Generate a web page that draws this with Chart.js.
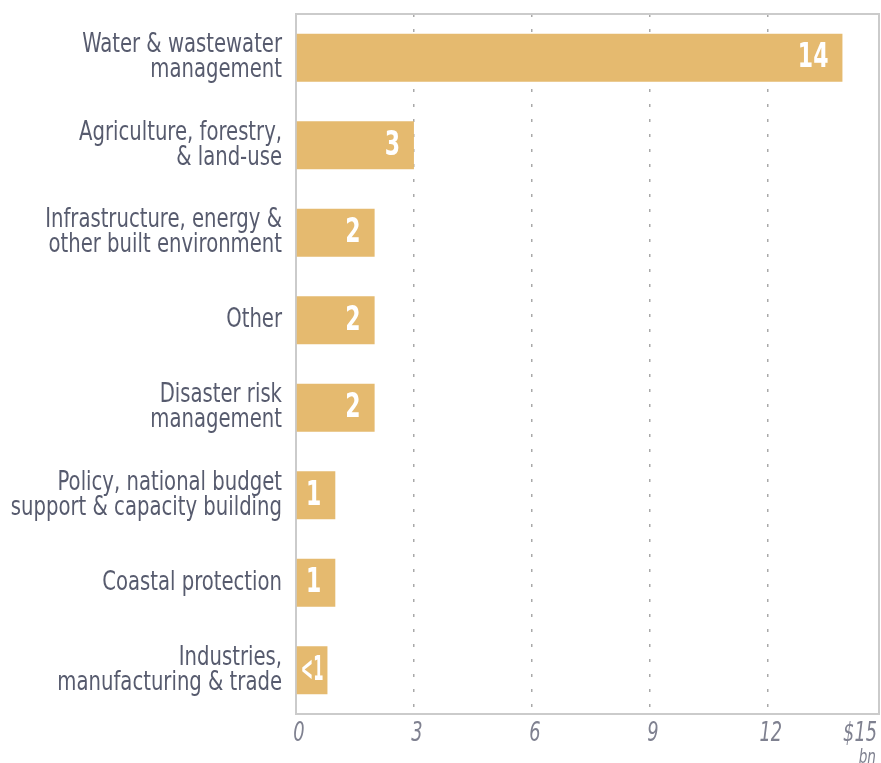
<!DOCTYPE html>
<html>
<head>
<meta charset="utf-8">
<script src="https://cdn.jsdelivr.net/npm/chart.js@4/dist/chart.umd.min.js"></script>
<style>
  html, body { margin: 0; padding: 0; background: #fff; }
  #wrap { width: 881px; height: 763px; }
</style>
</head>
<body>
<div id="wrap"><canvas id="sectorChart"></canvas></div>
<script>
// chart data
const categories = [
    ['Water & wastewater', 'management'],
    ['Agriculture, forestry,', '& land-use'],
    ['Infrastructure, energy &', 'other built environment'],
    ['Other'],
    ['Disaster risk', 'management'],
    ['Policy, national budget', 'support & capacity building'],
    ['Coastal protection'],
    ['Industries,', 'manufacturing & trade'],
];
const amounts = [13.9, 3, 2, 2, 2, 1, 1, 0.8];
const amountLabels = ['14', '3', '2', '2', '2', '1', '1', '<1'];
const tickValues = [0, 3, 6, 9, 12];
const lastTickLabel = '$15';
const unitLabel = 'bn';

const FONT = '"DejaVu Sans Condensed", "DejaVu Sans", sans-serif';
const BAR_COLOR = '#e5ba6f';
const LABEL_COLOR = '#575b6e';
const TICK_COLOR = '#7f8190';

// the source uses a narrow typeface, so squeeze the text horizontally
function squeezedText(ctx, text, x, y, sx, align) {
    ctx.save();
    ctx.translate(x, y);
    ctx.scale(sx, 1);
    ctx.textAlign = align;
    ctx.fillText(text, 0, 0);
    ctx.restore();
}

const extras = {
    id: 'extras',
    beforeDatasetsDraw(chart) {
        const { ctx, chartArea } = chart;
        ctx.save();
        ctx.strokeStyle = '#cbcbcb';
        ctx.lineWidth = 2;
        ctx.strokeRect(chartArea.left, chartArea.top,
            chartArea.right - chartArea.left, chartArea.bottom - chartArea.top);
        ctx.restore();
    },
    afterDatasetsDraw(chart) {
        const { ctx, chartArea } = chart;
        const meta = chart.getDatasetMeta(0);
        const yScale = chart.scales.y;
        const xScale = chart.scales.x;

        // values inside the bars
        ctx.save();
        ctx.fillStyle = '#ffffff';
        ctx.font = 'bold 33px ' + FONT;
        ctx.textBaseline = 'middle';
        meta.data.forEach((bar, i) => {
            const text = amountLabels[i];
            let sx = 0.74;
            let w = ctx.measureText(text).width * sx;
            let x = bar.x - 14 - w;
            if (x < bar.base + 4) {
                // short bar: fit the label inside it
                const room = bar.x - bar.base - 8;
                if (w > room) {
                    sx = sx * room / w;
                    w = room;
                }
                x = (bar.base + bar.x - w) / 2;
            }
            squeezedText(ctx, text, x, bar.y + 1, sx, 'left');
        });
        ctx.restore();

        // category labels
        ctx.save();
        ctx.fillStyle = LABEL_COLOR;
        ctx.font = '26px ' + FONT;
        ctx.textBaseline = 'middle';
        categories.forEach((lines, i) => {
            const yc = yScale.getPixelForTick(i);
            const start = yc - (lines.length - 1) * 12.5;
            lines.forEach((line, j) => {
                squeezedText(ctx, line, chartArea.left - 14, start + j * 25, 0.84, 'right');
            });
        });
        ctx.restore();

        // value axis labels
        ctx.save();
        ctx.fillStyle = TICK_COLOR;
        ctx.font = 'italic 26px ' + FONT;
        ctx.textBaseline = 'top';
        tickValues.forEach(v => {
            squeezedText(ctx, String(v), xScale.getPixelForValue(v) + 3, chartArea.bottom + 7, 0.76, 'center');
        });
        squeezedText(ctx, lastTickLabel, chartArea.right - 2, chartArea.bottom + 7, 0.76, 'right');
        ctx.font = 'italic 19px ' + FONT;
        squeezedText(ctx, unitLabel, chartArea.right - 3, chartArea.bottom + 35, 0.8, 'right');
        ctx.restore();
    },
};

function createChart(ctx) {
    return new Chart(ctx, {
        type: 'bar',
        data: {
            labels: categories,
            datasets: [{
                data: amounts,
                backgroundColor: BAR_COLOR,
                borderWidth: 0,
                categoryPercentage: 1,
                barPercentage: 0.55,
            }],
        },
        options: {
            indexAxis: 'y',
            responsive: true,
            maintainAspectRatio: false,
            animation: false,
            layout: { padding: { top: 14, right: 2, left: 0, bottom: 0 } },
            plugins: {
                legend: { display: false },
                tooltip: { enabled: false },
            },
            scales: {
                x: {
                    min: 0,
                    max: 14.83,
                    afterBuildTicks(scale) {
                        scale.ticks = tickValues.map(v => ({ value: v }));
                    },
                    afterFit(scale) {
                        scale.height = 49;
                        scale.paddingLeft = 0;
                        scale.paddingRight = 0;
                    },
                    border: { display: false },
                    grid: {
                        color: c => (c.tick && c.tick.value === 0) ? 'rgba(0,0,0,0)' : '#a9a9a9',
                        lineWidth: 1.5,
                        drawTicks: false,
                    },
                    ticks: { display: false },
                },
                y: {
                    afterFit(scale) {
                        scale.width = 296;
                        scale.paddingTop = 0;
                        scale.paddingBottom = 0;
                    },
                    border: { display: false },
                    grid: { display: false },
                    ticks: { display: false },
                },
            },
        },
        plugins: [extras],
    });
}

document.addEventListener('DOMContentLoaded', () => {
    const ctx = document.getElementById('sectorChart').getContext('2d');
    const chart = createChart(ctx);
    // dotted grid lines
    chart.options.scales.x.border.dash = [3, 12];
    chart.options.scales.x.grid.borderDash = [3, 12];
    chart.options.scales.x.border.dashOffset = 0;
    chart.update();
});
</script>
</body>
</html>
